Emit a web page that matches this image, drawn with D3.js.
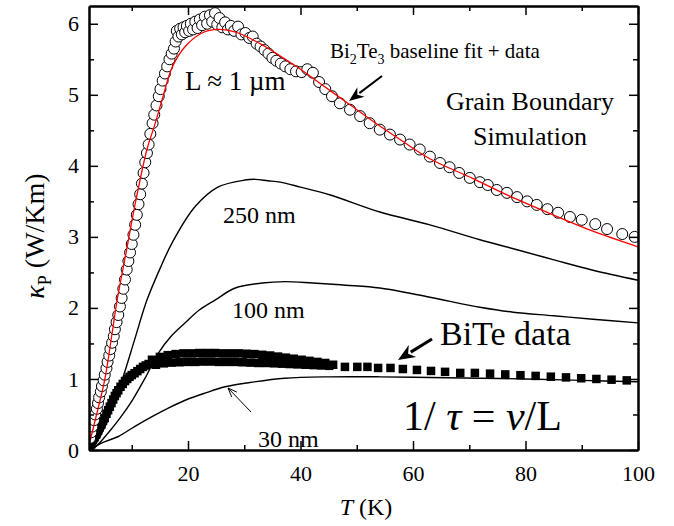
<!DOCTYPE html>
<html>
<head>
<meta charset="utf-8">
<script src="https://cdn.jsdelivr.net/npm/d3@7"></script>
<style>
body { margin: 0; background: #fff; }
text { font-family: "Liberation Serif", "Times New Roman", serif; fill: #000; }
.axis path, .axis line { stroke: #000; }
.axis path { stroke-width: 2; }
.axis line { stroke-width: 1.5; }
</style>
</head>
<body>
<script>
// Bi2Te3 data (open circles), T in K, kappa in W/Km
var bi2te3T = [2.6, 2.8, 3.0, 3.3, 3.5, 3.8, 4.0, 4.2, 4.5, 4.7, 5.0, 5.2, 5.5, 5.7, 6.0, 6.2, 6.5, 6.8, 7.0, 7.3, 7.6, 7.9, 8.2, 8.5, 8.8, 9.1, 9.4, 9.7, 10.0, 10.3, 10.6, 10.9, 11.2, 11.5, 11.8, 12.1, 12.4, 12.7, 13.0, 13.3, 13.7, 14.0, 14.4, 14.8, 15.1, 15.5, 15.9, 16.3, 16.7, 17.1, 17.5, 17.8, 18.0, 18.3, 18.6, 18.9, 19.2, 19.5, 19.8, 20.2, 20.5, 20.9, 21.3, 21.7, 22.1, 22.5, 23.0, 23.4, 23.9, 24.3, 24.8, 25.2, 25.6, 26.1, 26.6, 27.1, 27.6, 28.2, 28.9, 29.5, 30.2, 30.9, 31.5, 32.2, 32.9, 33.6, 34.3, 35.0, 35.7, 36.5, 37.3, 38.2, 39.2, 40.2, 41.2, 42.2, 43.3, 44.4, 45.6, 47.0, 48.8, 50.6, 52.3, 54.1, 55.9, 57.7, 59.4, 61.2, 63.0, 64.8, 66.5, 68.2, 70.1, 71.9, 73.3, 74.9, 76.7, 78.5, 80.3, 82.0, 83.9, 85.8, 87.9, 90.0, 92.4, 94.5, 97.2, 99.4];
var bi2te3K = [0.17, 0.25, 0.33, 0.42, 0.5, 0.58, 0.66, 0.74, 0.82, 0.9, 0.98, 1.06, 1.15, 1.24, 1.33, 1.42, 1.51, 1.6, 1.7, 1.8, 1.9, 2.02, 2.14, 2.27, 2.4, 2.54, 2.66, 2.78, 2.9, 3.03, 3.17, 3.31, 3.46, 3.6, 3.75, 3.9, 4.05, 4.18, 4.3, 4.45, 4.6, 4.72, 4.85, 4.98, 5.08, 5.2, 5.3, 5.4, 5.5, 5.58, 5.65, 5.75, 5.9, 5.82, 5.93, 5.85, 5.95, 5.88, 5.97, 5.9, 6.0, 5.92, 6.03, 5.94, 6.06, 5.98, 6.1, 6.0, 6.12, 6.03, 6.15, 5.99, 6.08, 5.95, 6.02, 5.92, 5.97, 5.9, 5.96, 5.85, 5.87, 5.8, 5.82, 5.72, 5.68, 5.63, 5.58, 5.52, 5.48, 5.44, 5.4, 5.36, 5.33, 5.32, 5.36, 5.31, 5.18, 5.08, 4.98, 4.88, 4.79, 4.7, 4.6, 4.51, 4.44, 4.37, 4.3, 4.23, 4.13, 4.04, 3.98, 3.9, 3.83, 3.77, 3.73, 3.66, 3.62, 3.56, 3.5, 3.45, 3.39, 3.34, 3.28, 3.24, 3.18, 3.11, 3.04, 3.0];

// BiTe data (filled squares)
var biteT = [2.5, 2.8, 3.1, 3.4, 3.7, 4.0, 4.3, 4.6, 4.9, 5.2, 5.5, 5.8, 6.1, 6.4, 6.7, 7.0, 7.3, 7.6, 8.0, 8.4, 8.8, 9.2, 9.6, 10.0, 10.5, 11.0, 11.5, 12.0, 12.5, 13.0, 13.6, 14.3, 15.0, 15.7, 16.4, 17.1, 17.8, 18.5, 19.2, 19.9, 20.6, 21.3, 22.0, 22.7, 23.4, 24.1, 24.8, 25.5, 26.2, 26.9, 27.6, 28.3, 29.0, 29.7, 30.4, 31.1, 31.8, 32.5, 33.2, 33.9, 34.6, 35.3, 36.0, 36.7, 37.4, 38.1, 38.8, 39.5, 40.2, 40.9, 41.6, 42.3, 43.0, 43.7, 44.4, 45.1, 45.8, 47.9, 50.1, 51.9, 53.8, 56.0, 58.2, 60.7, 63.2, 65.7, 68.4, 71.0, 73.7, 76.4, 79.1, 81.8, 84.5, 87.2, 89.9, 92.6, 95.3, 98.0];
var biteK = [0.03, 0.08, 0.14, 0.18, 0.22, 0.27, 0.32, 0.36, 0.41, 0.45, 0.51, 0.56, 0.61, 0.66, 0.71, 0.76, 0.8, 0.84, 0.89, 0.93, 0.97, 1.0, 1.03, 1.055, 1.08, 1.11, 1.14, 1.17, 1.19, 1.21, 1.27, 1.2, 1.31, 1.22, 1.335, 1.23, 1.35, 1.235, 1.36, 1.24, 1.36, 1.24, 1.365, 1.245, 1.365, 1.245, 1.365, 1.24, 1.36, 1.24, 1.36, 1.24, 1.36, 1.235, 1.355, 1.23, 1.35, 1.225, 1.34, 1.225, 1.33, 1.22, 1.315, 1.215, 1.3, 1.21, 1.285, 1.205, 1.27, 1.2, 1.255, 1.195, 1.24, 1.19, 1.225, 1.185, 1.2, 1.17, 1.17, 1.17, 1.155, 1.155, 1.14, 1.127, 1.113, 1.1, 1.085, 1.085, 1.075, 1.064, 1.053, 1.043, 1.032, 1.022, 1.01, 1.0, 0.99, 0.98];

// baseline fit, L ~ 1 um (red)
var fitT = [2.4, 3.5, 5.2, 6.5, 7.4, 9.0, 10.5, 12.7, 14.1, 15.4, 17.2, 19.5, 22.5, 25.4, 28.9, 33.7, 36.9, 40, 44, 48.8, 53, 57.7, 63, 70.7, 77, 84.9, 92, 100];
var fitK = [0.07, 0.42, 0.99, 1.64, 2.11, 2.78, 3.42, 4.23, 4.58, 4.93, 5.39, 5.68, 5.87, 5.92, 5.87, 5.68, 5.52, 5.36, 5.13, 4.86, 4.62, 4.37, 4.1, 3.82, 3.58, 3.31, 3.08, 2.86];

// grain boundary simulations
var sim250T = [2.4, 3.5, 5.2, 8.3, 10.5, 12.7, 15, 17.2, 21.2, 25.3, 30.1, 32, 34.2, 36.4, 40, 45.3, 54.1, 63, 71.9, 78, 84.9, 92, 100];
var sim250K = [0, 0.08, 0.32, 0.99, 1.55, 2.11, 2.55, 2.92, 3.42, 3.7, 3.8, 3.81, 3.79, 3.77, 3.7, 3.59, 3.35, 3.17, 2.96, 2.83, 2.68, 2.53, 2.39];
var sim100T = [2.4, 3.5, 5.8, 8, 10.1, 12.5, 14.7, 17, 19.5, 22, 24.8, 28.4, 33.2, 37.2, 42.2, 48, 54.1, 63, 71.9, 77.8, 85, 92, 100];
var sim100K = [0, 0.04, 0.24, 0.46, 0.7, 1.03, 1.36, 1.6, 1.79, 1.97, 2.11, 2.28, 2.35, 2.37, 2.35, 2.32, 2.28, 2.15, 2.01, 1.94, 1.89, 1.84, 1.79];
var sim30T = [2.4, 4.7, 7.6, 10.5, 13.6, 16.5, 19.5, 23, 26.6, 31, 37.2, 45, 54.1, 63, 71.9, 80, 90, 100];
var sim30K = [0, 0.1, 0.19, 0.33, 0.47, 0.59, 0.7, 0.8, 0.89, 0.95, 1.01, 1.03, 1.03, 1.02, 1.01, 1.0, 0.98, 0.96];

var xMajor = [20, 40, 60, 80, 100];
var xMinor = [10, 30, 50, 70, 90];
var yMajor = [0, 1, 2, 3, 4, 5, 6];
var yMinor = [0.5, 1.5, 2.5, 3.5, 4.5, 5.5];

var margin = {top: 6, right: 36, bottom: 76, left: 89}
, width = 674 - margin.left - margin.right
, height = 526 - margin.top - margin.bottom;

var x = d3.scaleLinear().domain([2.4, 100]).range([0, width]);
var y = d3.scaleLinear().domain([0, 6.25]).range([height, 0]);

var svg = d3.select('body').append('svg')
  .attr('width', 674)
  .attr('height', 526);

svg.append('defs').append('clipPath').attr('id', 'clip')
  .append('rect').attr('width', width).attr('height', height);

var main = svg.append('g')
  .attr('transform', 'translate(' + margin.left + ',' + margin.top + ')');

var zip = function(a, b) { return a.map(function(v, i) { return [v, b[i]]; }); };
var line = d3.line()
  .x(function(d) { return x(d[0]); })
  .y(function(d) { return y(d[1]); })
  .curve(d3.curveCatmullRom);

var plot = main.append('g').attr('clip-path', 'url(#clip)');

// simulation curves
[[sim250T, sim250K], [sim100T, sim100K], [sim30T, sim30K]].forEach(function(s) {
  plot.append('path')
    .attr('d', line(zip(s[0], s[1])))
    .attr('fill', 'none')
    .attr('stroke', '#000')
    .attr('stroke-width', 1.4);
});

// BiTe squares
var sq = 8.5;
plot.selectAll('rect.bite')
  .data(zip(biteT, biteK))
  .enter().append('rect')
  .attr('class', 'bite')
  .attr('x', function(d) { return x(d[0]) - sq / 2; })
  .attr('y', function(d) { return y(d[1]) - sq / 2; })
  .attr('width', sq)
  .attr('height', sq)
  .attr('fill', '#000');

// Bi2Te3 circles
plot.selectAll('circle.bi2te3')
  .data(zip(bi2te3T, bi2te3K))
  .enter().append('circle')
  .attr('class', 'bi2te3')
  .attr('cx', function(d) { return x(d[0]); })
  .attr('cy', function(d) { return y(d[1]); })
  .attr('r', 5.5)
  .attr('fill', '#fff')
  .attr('stroke', '#000')
  .attr('stroke-width', 1);

// red baseline fit
plot.append('path')
  .attr('d', line(zip(fitT, fitK)))
  .attr('fill', 'none')
  .attr('stroke', '#ff0000')
  .attr('stroke-width', 1.3);

// axes (ticks inward on all sides)
function style(g) {
  g.attr('class', 'axis');
  g.selectAll('text').style('font-family', '"Liberation Serif", serif').style('font-size', '22px').attr('fill', '#000');
  return g;
}
main.append('g').attr('transform', 'translate(0,' + height + ')')
  .call(d3.axisBottom(x).tickValues(xMajor).tickSizeInner(-9).tickSizeOuter(0).tickPadding(15).tickFormat(d3.format('d')))
  .call(style);
main.append('g').attr('transform', 'translate(0,' + height + ')')
  .call(d3.axisBottom(x).tickValues(xMinor).tickSizeInner(-5).tickSizeOuter(0).tickFormat(''))
  .call(style);
main.append('g')
  .call(d3.axisTop(x).tickValues(xMajor).tickSizeInner(-9).tickSizeOuter(0).tickFormat(''))
  .call(style);
main.append('g')
  .call(d3.axisTop(x).tickValues(xMinor).tickSizeInner(-5).tickSizeOuter(0).tickFormat(''))
  .call(style);
main.append('g')
  .call(d3.axisLeft(y).tickValues(yMajor).tickSizeInner(-9).tickSizeOuter(0).tickPadding(10).tickFormat(d3.format('d')))
  .call(style);
main.append('g')
  .call(d3.axisLeft(y).tickValues(yMinor).tickSizeInner(-5).tickSizeOuter(0).tickFormat(''))
  .call(style);
main.append('g').attr('transform', 'translate(' + width + ',0)')
  .call(d3.axisRight(y).tickValues(yMajor).tickSizeInner(-9).tickSizeOuter(0).tickFormat(''))
  .call(style);
main.append('g').attr('transform', 'translate(' + width + ',0)')
  .call(d3.axisRight(y).tickValues(yMinor).tickSizeInner(-5).tickSizeOuter(0).tickFormat(''))
  .call(style);

// axis titles
var xt = svg.append('text').attr('x', 366).attr('y', 515)
  .attr('text-anchor', 'middle').style('font-size', '24px');
xt.append('tspan').style('font-style', 'italic').text('T');
xt.append('tspan').text(' (K)');

var yt = svg.append('text')
  .attr('transform', 'translate(44,236) rotate(-90)')
  .attr('text-anchor', 'middle').style('font-size', '28px');
yt.append('tspan').style('font-style', 'italic').text('κ');
yt.append('tspan').attr('dy', 7).style('font-size', '18px').text('P');
yt.append('tspan').attr('dy', -7).text(' (W/Km)');

// annotations
var t1 = svg.append('text').attr('x', 330).attr('y', 58).style('font-size', '21px');
t1.append('tspan').text('Bi');
t1.append('tspan').attr('dy', 6).style('font-size', '14px').text('2');
t1.append('tspan').attr('dy', -6).text('Te');
t1.append('tspan').attr('dy', 6).style('font-size', '14px').text('3');
t1.append('tspan').attr('dy', -6).text(' baseline fit + data');

svg.append('text').attr('x', 185).attr('y', 90).style('font-size', '27px').text('L ≈ 1 µm');
svg.append('text').attr('x', 530).attr('y', 110).attr('text-anchor', 'middle').style('font-size', '26px').text('Grain Boundary');
svg.append('text').attr('x', 530).attr('y', 145).attr('text-anchor', 'middle').style('font-size', '26px').text('Simulation');
svg.append('text').attr('x', 223).attr('y', 223).style('font-size', '24px').text('250 nm');
svg.append('text').attr('x', 232).attr('y', 318).style('font-size', '24px').text('100 nm');
svg.append('text').attr('x', 258).attr('y', 447).style('font-size', '24px').text('30 nm');
svg.append('text').attr('x', 440).attr('y', 345).style('font-size', '34px').text('BiTe data');

var eq = svg.append('text').attr('x', 403).attr('y', 430).style('font-size', '42px');
eq.append('tspan').text('1/ ');
eq.append('tspan').style('font-style', 'italic').text('τ');
eq.append('tspan').text(' = ');
eq.append('tspan').style('font-style', 'italic').text('ν');
eq.append('tspan').text('/L');

// arrows
function arrow(x1, y1, x2, y2, w, hl, hw, filled) {
  var a = Math.atan2(y2 - y1, x2 - x1);
  var bx = x2 - hl * Math.cos(a), by = y2 - hl * Math.sin(a);
  var px = -Math.sin(a) * hw, py = Math.cos(a) * hw;
  svg.append('line').attr('x1', x1).attr('y1', y1)
    .attr('x2', filled ? bx + 2 * Math.cos(a) : x2).attr('y2', filled ? by + 2 * Math.sin(a) : y2)
    .attr('stroke', '#000').attr('stroke-width', w);
  if (filled) {
    var nx = x2 - hl * 0.7 * Math.cos(a), ny = y2 - hl * 0.7 * Math.sin(a);
    svg.append('path')
      .attr('d', 'M' + x2 + ',' + y2 + 'L' + (bx + px) + ',' + (by + py) + 'L' + nx + ',' + ny + 'L' + (bx - px) + ',' + (by - py) + 'Z')
      .attr('fill', '#000');
  } else {
    svg.append('path')
      .attr('d', 'M' + (bx + px) + ',' + (by + py) + 'L' + x2 + ',' + y2 + 'L' + (bx - px) + ',' + (by - py))
      .attr('fill', 'none').attr('stroke', '#000').attr('stroke-width', w);
  }
}
arrow(382, 76, 349, 101, 2, 15, 6, true);
arrow(432, 339, 398, 360, 3, 17, 7, true);
arrow(251, 412, 228, 388, 1, 9, 3.5, false);
</script>
</body>
</html>
